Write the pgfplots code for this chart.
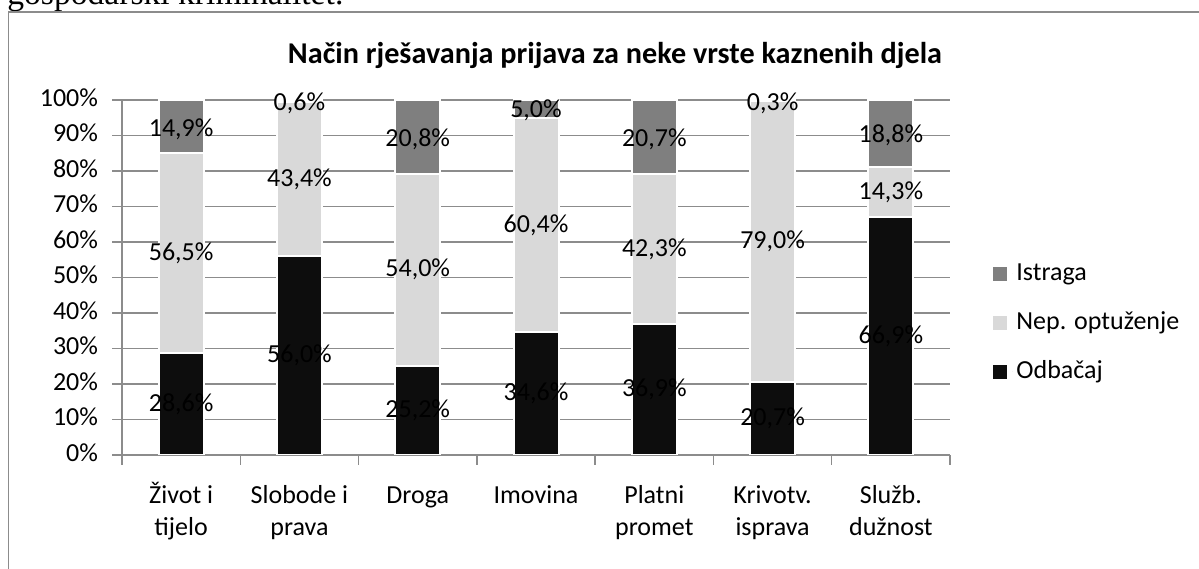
\documentclass[border=0pt]{standalone}
\usepackage{fontspec}
\setmainfont{Carlito}
\newfontfamily\serifdoc{Liberation Serif}
\usepackage{pgfplots}
\pgfplotsset{compat=1.18}
\definecolor{istraga}{HTML}{7F7F7F}
\definecolor{nepopt}{HTML}{D9D9D9}
\definecolor{odbacaj}{HTML}{0D0D0D}
\definecolor{gridc}{HTML}{8C8C8C}
\newcommand\lbl{\fontsize{13bp}{16bp}\selectfont}

\begin{document}
\begin{tikzpicture}[x=0.5bp,y=0.5bp]
\fill[white] (0,0) rectangle (1199,569);
% cut-off line of the surrounding document
\node[anchor=base west, inner sep=0pt, font=\serifdoc\fontsize{16.8bp}{20bp}\selectfont] at (7,564) {gospodarski kriminalitet.};
% chart frame
\draw[color=gridc, line width=0.8bp] (8.5,-5) |- (1210,557);
\node[font=\bfseries\fontsize{15.1bp}{18bp}\selectfont] at (615,514) {Način rješavanja prijava za neke vrste kaznenih djela};

\pgfplotsset{chartframe/.style={
  at={(61bp,57bp)}, anchor=origin, scale only axis,
  width=414bp, height=177.5bp, xmin=0, xmax=7, ymin=0, ymax=100}}

\begin{axis}[chartframe,
    ybar stacked, bar width=22.5bp,
    axis x line*=bottom, axis y line*=left,
    axis line style={gridc, line width=0.75bp},
    tick style={gridc, line width=0.75bp},
    tick align=outside, major tick length=5bp,
    ymajorgrids, grid style={gridc, line width=0.75bp},
    ytick={0,10,...,100},
    yticklabels={0\%,10\%,20\%,30\%,40\%,50\%,60\%,70\%,80\%,90\%,100\%},
    yticklabel style={font=\lbl, xshift=-3.5bp},
    xtick={0,...,7}, xticklabels={},
    extra x ticks={0.5,1.5,2.5,3.5,4.5,5.5,6.5},
    extra x tick labels={Život i\\tijelo, Slobode i\\prava, Droga, Imovina, Platni\\promet, Krivotv.\\isprava, Služb.\\dužnost},
    extra x tick style={major tick length=0pt},
    typeset ticklabels with strut,
    xticklabel style={font=\lbl, align=center, anchor=north, yshift=-9.5bp},
    legend style={at={(1,0.372)}, anchor=west, xshift=21bp, draw=none, fill=none,
      inner sep=0pt, row sep=10bp, font=\lbl,
      nodes={inner sep=1.5bp, text height=9bp, text depth=2.5bp}},
    legend cell align=left, reverse legend,
    legend image code/.code={\path (0bp,0bp) -- (9.5bp,0bp);
      \path[#1, draw=none] (0bp,-3.5bp) rectangle (7bp,3.5bp);},
]
\addplot[fill=odbacaj, draw=white, line width=1bp] coordinates {(0.5,28.6) (1.5,56.0) (2.5,25.2) (3.5,34.6) (4.5,36.9) (5.5,20.7) (6.5,66.9)};
\addplot[fill=nepopt, draw=white, line width=1bp] coordinates {(0.5,56.5) (1.5,43.4) (2.5,54.0) (3.5,60.4) (4.5,42.3) (5.5,79.0) (6.5,14.3)};
\addplot[fill=istraga, draw=white, line width=1bp] coordinates {(0.5,14.9) (1.5,0.6) (2.5,20.8) (3.5,5.0) (4.5,20.7) (5.5,0.3) (6.5,18.8)};
\legend{Odbačaj, Nep. optuženje, Istraga}
\end{axis}

% value labels, centred in their segments
\begin{axis}[chartframe, hide axis, clip=false,
    point meta=explicit symbolic,
    every node near coord/.append style={anchor=center, font=\lbl, text=black, inner sep=0pt}]
\addplot[draw=none, nodes near coords] coordinates {
  (0.5,14.3) [28,6\%] (1.5,28.0) [56,0\%] (2.5,12.6) [25,2\%] (3.5,17.3) [34,6\%]
  (4.5,18.45) [36,9\%] (5.5,10.35) [20,7\%] (6.5,33.45) [66,9\%]};
\addplot[draw=none, nodes near coords] coordinates {
  (0.5,56.85) [56,5\%] (1.5,77.7) [43,4\%] (2.5,52.2) [54,0\%] (3.5,64.8) [60,4\%]
  (4.5,58.05) [42,3\%] (5.5,60.2) [79,0\%] (6.5,74.05) [14,3\%]};
\addplot[draw=none, nodes near coords] coordinates {
  (0.5,91.8) [14,9\%] (1.5,99.0) [0,6\%] (2.5,89.0) [20,8\%] (3.5,97.0) [5,0\%]
  (4.5,89.0) [20,7\%] (5.5,99.0) [0,3\%] (6.5,90.0) [18,8\%]};
\end{axis}
\pgfresetboundingbox
\path[use as bounding box] (0,0) rectangle (1199,569);
\end{tikzpicture}
\end{document}
